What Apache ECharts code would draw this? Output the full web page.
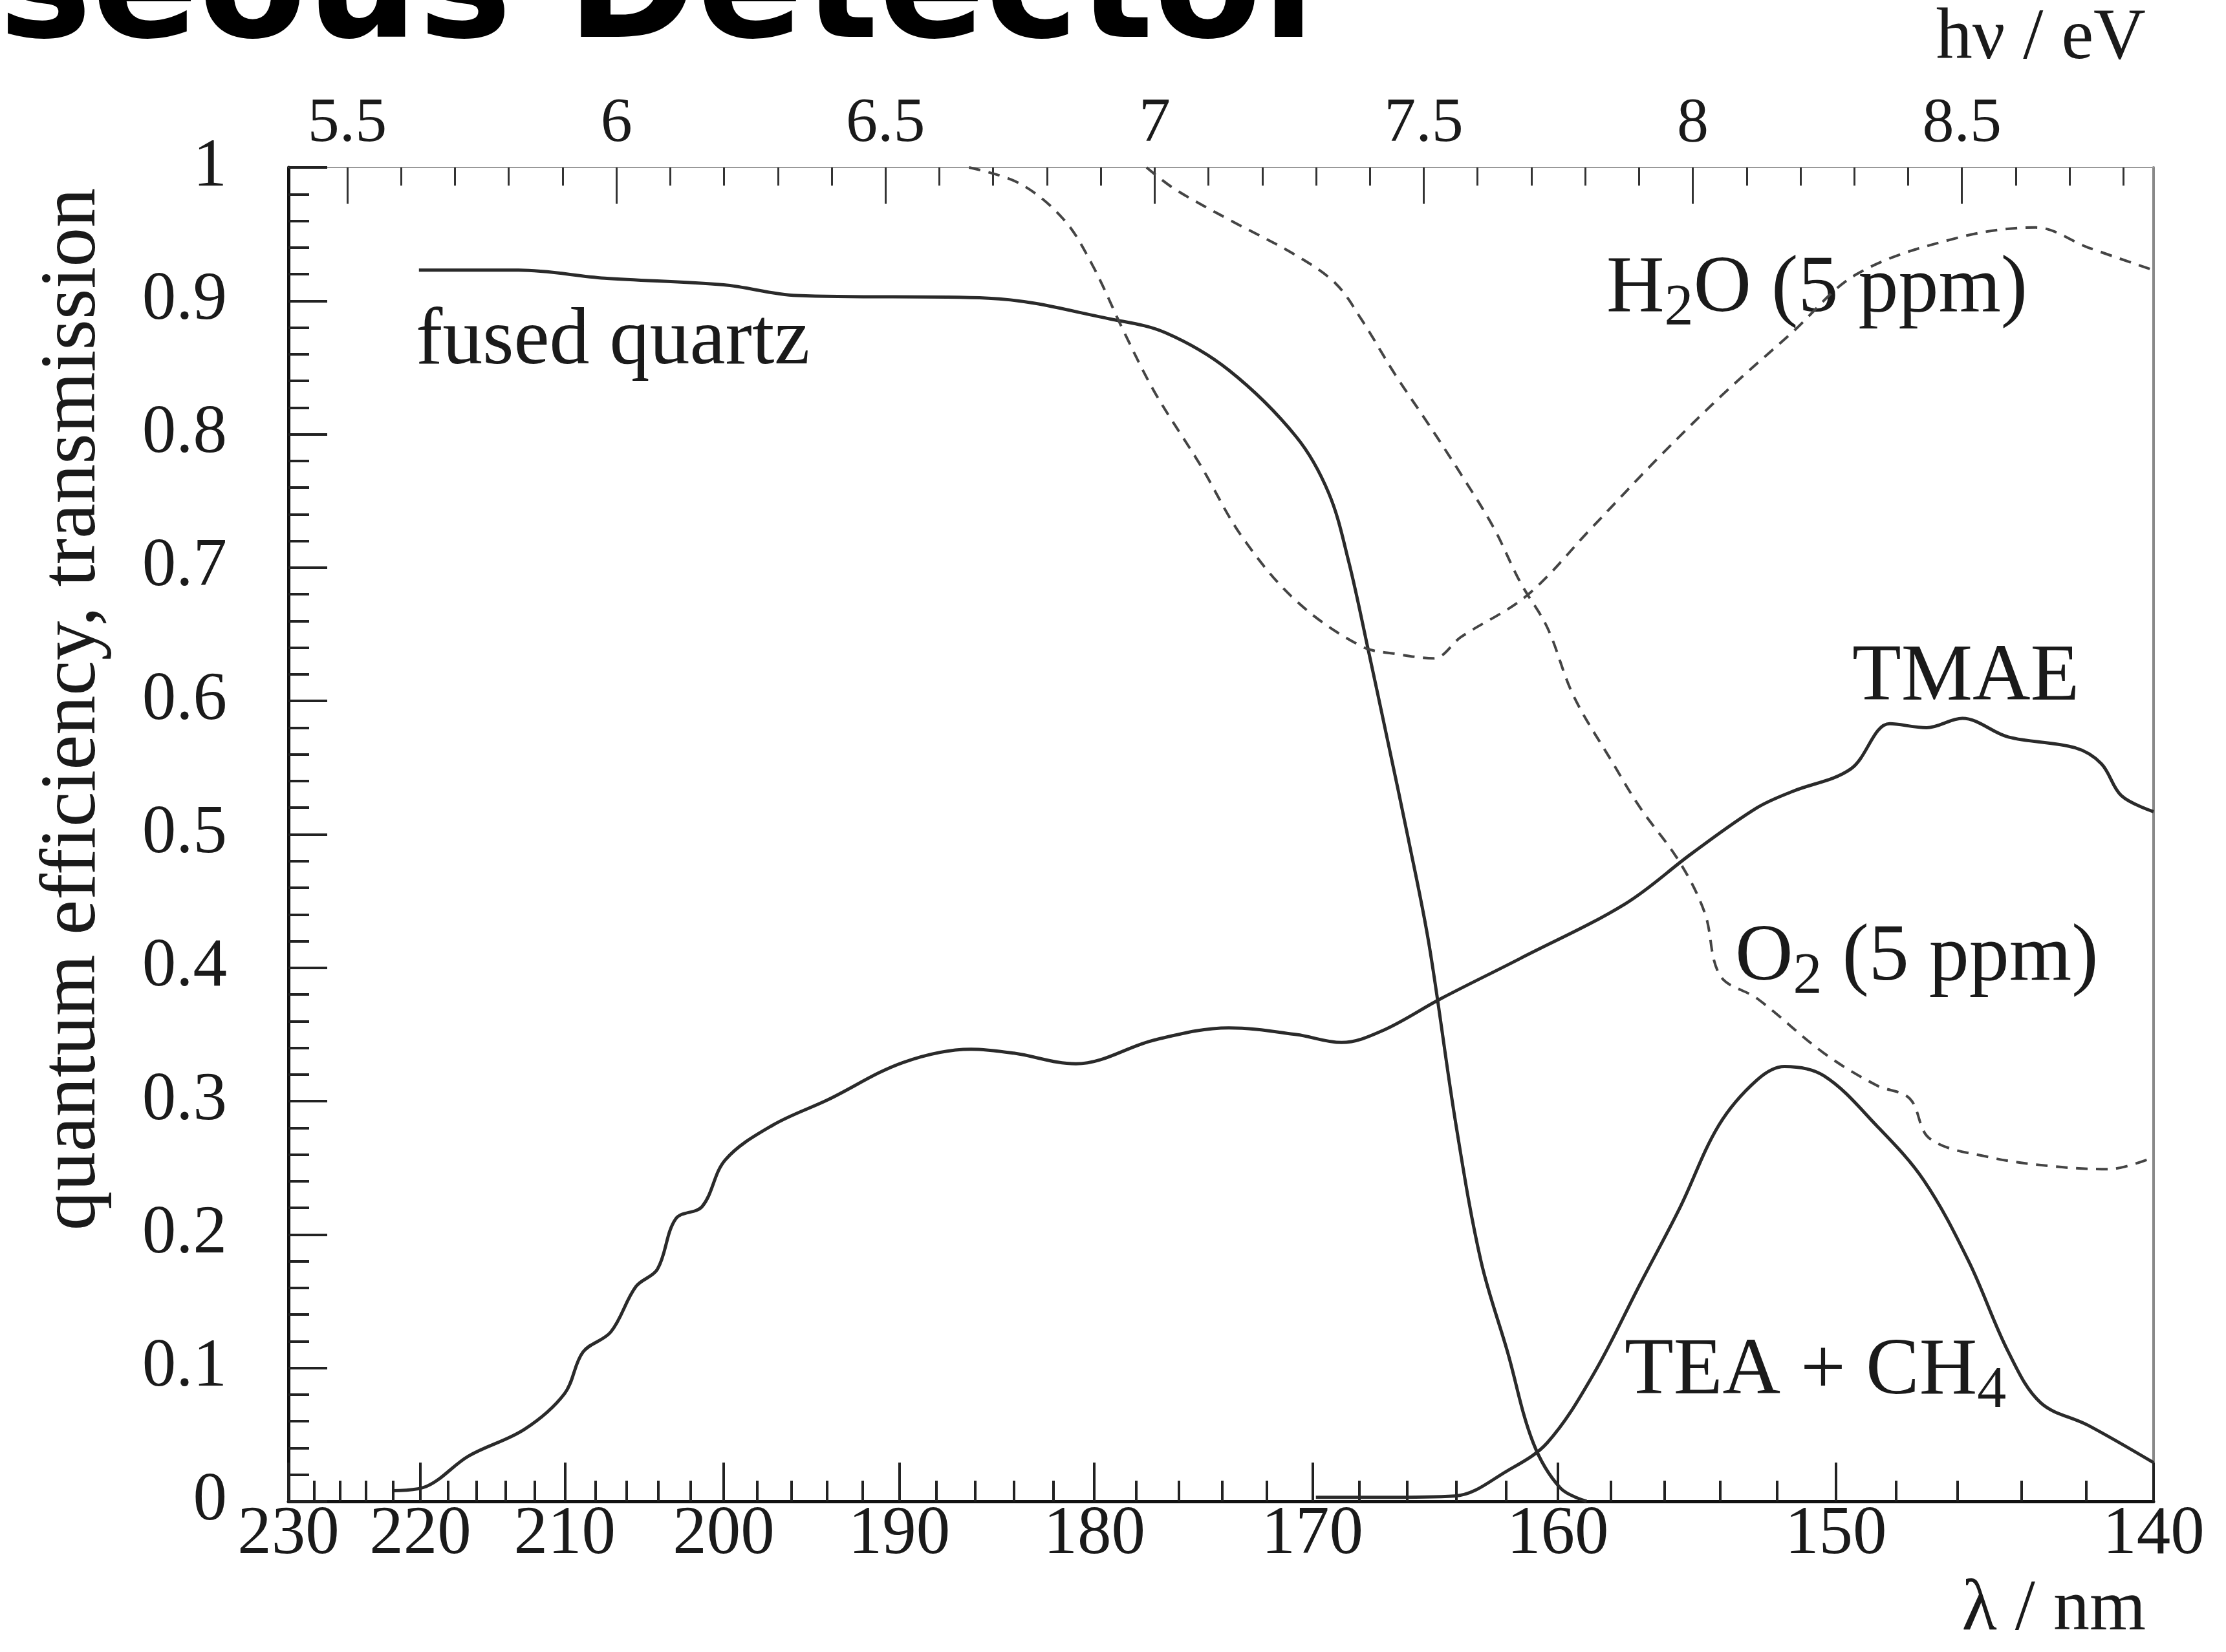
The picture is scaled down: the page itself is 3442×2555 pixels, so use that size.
<!DOCTYPE html>
<html>
<head>
<meta charset="utf-8">
<title>quantum efficiency, transmission</title>
<script src="https://cdn.jsdelivr.net/npm/echarts@6/dist/echarts.min.js"></script>
<style>
  html, body { margin: 0; padding: 0; background: #fff; }
  #chart { width: 3442px; height: 2555px; }
</style>
</head>
<body>
<div id="chart"></div>
<script>
  // hc in eV*nm, the x axis is linear in photon energy
  var HC = 1239.84;
  function toEV(nm) { return HC / nm; }

  // tick labels
  var nmMajor = [230, 220, 210, 200, 190, 180, 170, 160, 150, 140];
  var evMajor = [5.5, 6, 6.5, 7, 7.5, 8, 8.5];

  // minor ticks: every 2 nm below, every 0.1 eV on top
  var nmMinor = [];
  for (var l = 228; l > 140; l -= 2) if (l % 10) nmMinor.push(l);
  var evMinor = [];
  for (var k = 55; k <= 88; k++) if (k % 5) evMinor.push(k / 10);

  // curves: wavelength (nm) and value
  var quartzNm  = [220.1, 213.1, 207.4, 200.0, 195.7, 185.3, 179.1, 176.6, 173.7, 170.7, 169.3, 168.45, 167.6, 166.8, 165.95, 165.1, 164.0, 163.0, 161.95, 160.95, 159.9, 158.9];
  var quartzVal = [0.923, 0.923, 0.917, 0.912, 0.904, 0.902, 0.886, 0.876, 0.848, 0.798, 0.756, 0.705, 0.637, 0.570, 0.497, 0.418, 0.282, 0.180, 0.112, 0.044, 0.010, 0.0];

  var tmaeNm  = [221.9, 219.6, 216.55, 212.7, 210.0, 208.8, 207.0, 205.4, 204.05, 202.9, 201.3, 199.9, 197.1, 193.95, 189.8, 186.2, 184.0, 180.9, 177.1, 173.7, 170.7, 168.75, 167.0, 164.6, 161.45, 157.45, 155.0, 152.7, 151.5, 149.5, 148.2, 147.0, 145.85, 144.4, 142.35, 141.55, 140.95, 140.0];
  var tmaeVal = [0.008, 0.011, 0.034, 0.054, 0.081, 0.112, 0.127, 0.161, 0.174, 0.212, 0.221, 0.256, 0.282, 0.301, 0.329, 0.339, 0.336, 0.328, 0.346, 0.355, 0.350, 0.344, 0.353, 0.377, 0.407, 0.448, 0.486, 0.520, 0.532, 0.549, 0.583, 0.580, 0.587, 0.573, 0.565, 0.553, 0.529, 0.517];

  var teaNm  = [169.85, 167.0, 164.05, 161.95, 160.4, 158.65, 156.9, 155.45, 154.05, 152.7, 151.75, 150.4, 148.65, 147.1, 145.65, 144.4, 143.4, 141.95, 140.0];
  var teaVal = [0.003, 0.003, 0.004, 0.023, 0.044, 0.095, 0.163, 0.220, 0.282, 0.316, 0.326, 0.319, 0.282, 0.241, 0.180, 0.112, 0.074, 0.057, 0.029];

  var h2oNm  = [186.3, 183.7, 181.5, 180.1, 178.55, 177.1, 175.0, 173.1, 170.7, 167.9, 166.35, 164.9, 163.8, 161.2, 158.7, 156.2, 153.85, 151.5, 149.3, 146.05, 143.55, 141.95, 140.0];
  var h2oVal = [1.0, 0.988, 0.961, 0.927, 0.876, 0.831, 0.777, 0.723, 0.675, 0.641, 0.635, 0.632, 0.648, 0.679, 0.730, 0.783, 0.831, 0.876, 0.920, 0.947, 0.955, 0.940, 0.923];

  var o2Nm  = [177.5, 176.2, 173.7, 170.7, 169.0, 167.9, 166.5, 165.1, 163.8, 162.5, 161.45, 160.4, 159.4, 157.9, 156.9, 155.45, 154.55, 154.0, 152.7, 150.4, 148.65, 147.55, 146.9, 145.0, 142.95, 141.35, 140.0];
  var o2Val = [1.0, 0.984, 0.961, 0.934, 0.913, 0.886, 0.845, 0.807, 0.770, 0.730, 0.689, 0.655, 0.604, 0.553, 0.520, 0.479, 0.441, 0.394, 0.377, 0.336, 0.312, 0.302, 0.272, 0.258, 0.251, 0.249, 0.258];

  var SERIF = '"Liberation Serif", "Times New Roman", serif';
  var INK = '#1a1a1a';
  var E_MIN = toEV(230), E_MAX = toEV(140);

  function curve(nm, val) {
    return nm.map(function (l, i) { return [toEV(l), val[i]]; });
  }

  function line(data, dashed) {
    return {
      type: 'line',
      data: data,
      xAxisIndex: 0,
      yAxisIndex: 0,
      showSymbol: false,
      smooth: 0.35,
      silent: true,
      lineStyle: dashed
        ? { color: '#444', width: 4, type: [18, 13] }
        : { color: '#2a2a2a', width: 5 }
    };
  }

  // label with an optional subscript part
  function note(x, y, parts) {
    return {
      type: 'text',
      x: x,
      y: y,
      style: {
        text: parts,
        align: 'left',
        verticalAlign: 'middle',
        fill: INK,
        rich: {
          n: { fontFamily: SERIF, fontSize: 124, lineHeight: 150, fill: INK },
          s: { fontFamily: SERIF, fontSize: 90, lineHeight: 52, verticalAlign: 'bottom', fill: INK }
        }
      }
    };
  }

  var chart = echarts.init(document.getElementById('chart'));

  chart.setOption({
    animation: false,
    backgroundColor: '#fff',
    grid: { left: 446, right: 112, top: 259, bottom: 233, outerBoundsMode: 'none' },
    xAxis: [
      { // bottom, wavelength labels on the energy scale
        type: 'value', position: 'bottom', min: E_MIN, max: E_MAX,
        axisLine: { onZero: false, lineStyle: { color: '#111', width: 5 } },
        axisTick: { inside: true, length: 60, lineStyle: { color: '#222', width: 4 },
          customValues: nmMajor.map(toEV) },
        axisLabel: { customValues: nmMajor.map(toEV), margin: 0,
          formatter: function (v) { return Math.round(HC / v); },
          fontFamily: SERIF, fontSize: 105, color: INK },
        splitLine: { show: false }
      },
      { // top, photon energy
        type: 'value', position: 'top', min: E_MIN, max: E_MAX,
        axisLine: { onZero: false, lineStyle: { color: '#999', width: 2 } },
        axisTick: { inside: true, length: 56, lineStyle: { color: '#333', width: 3 },
          customValues: evMajor },
        axisLabel: { customValues: evMajor, margin: 18,
          formatter: function (v) { return String(+v.toFixed(1)); },
          fontFamily: SERIF, fontSize: 98, color: INK },
        splitLine: { show: false }
      },
      { // bottom minor ticks
        type: 'value', position: 'bottom', min: E_MIN, max: E_MAX,
        axisLine: { show: false, onZero: false },
        axisTick: { inside: true, length: 32, lineStyle: { color: '#222', width: 4 },
          customValues: nmMinor.map(toEV) },
        axisLabel: { show: false },
        splitLine: { show: false }
      },
      { // top minor ticks
        type: 'value', position: 'top', min: E_MIN, max: E_MAX,
        axisLine: { show: false, onZero: false },
        axisTick: { inside: true, length: 28, lineStyle: { color: '#333', width: 3 },
          customValues: evMinor },
        axisLabel: { show: false },
        splitLine: { show: false }
      }
    ],
    yAxis: [
      {
        type: 'value', position: 'left', min: 0, max: 1, interval: 0.1,
        axisLine: { onZero: false, lineStyle: { color: '#111', width: 5 } },
        axisTick: { inside: true, length: 60, lineStyle: { color: '#222', width: 4 } },
        minorTick: { show: true, splitNumber: 5, length: 32, lineStyle: { color: '#222', width: 4 } },
        axisLabel: { margin: 95, fontFamily: SERIF, fontSize: 105, color: INK,
          formatter: function (v) { return (v === 0 || v === 1) ? String(v) : v.toFixed(1); } },
        splitLine: { show: false }
      },
      {
        type: 'value', position: 'right', min: 0, max: 1,
        axisLine: { show: true, onZero: false, lineStyle: { color: '#888', width: 4 } },
        axisTick: { show: false },
        axisLabel: { show: false },
        splitLine: { show: false }
      }
    ],
    series: [
      line(curve(quartzNm, quartzVal), false),
      line(curve(tmaeNm, tmaeVal), false),
      line(curve(teaNm, teaVal), false),
      line(curve(h2oNm, h2oVal), true),
      line(curve(o2Nm, o2Val), true)
    ],
    graphic: [
      { // slide heading, cut at the top edge
        type: 'text', x: -366, y: -6,
        style: { text: 'Gaseous Detector', fontFamily: '"DejaVu Sans", sans-serif',
          fontWeight: 'bold', fontSize: 243, fill: '#000', align: 'left', verticalAlign: 'middle' }
      },
      {
        type: 'text', x: 114, y: 1097, rotation: Math.PI / 2,
        style: { text: 'quantum efficiency, transmission', fontFamily: SERIF,
          fontSize: 122, fill: INK, align: 'center', verticalAlign: 'middle' }
      },
      {
        type: 'text', x: 3318, y: 61,
        style: { text: 'h\u03bd / eV', fontFamily: SERIF, fontSize: 112, fill: INK,
          align: 'right', verticalAlign: 'middle' }
      },
      {
        type: 'text', x: 3318, y: 2491,
        style: { text: '\u03bb / nm', fontFamily: SERIF, fontSize: 112, fill: INK,
          align: 'right', verticalAlign: 'middle' }
      },
      note(643, 529, '{n|fused quartz}'),
      note(2484, 448, '{n|H}{s|2}{n|O (5 ppm)}'),
      note(2864, 1049, '{n|TMAE}'),
      note(2683, 1482, '{n|O}{s|2}{n| (5 ppm)}'),
      note(2512, 2122, '{n|TEA + CH}{s|4}')
    ]
  });
</script>
</body>
</html>
